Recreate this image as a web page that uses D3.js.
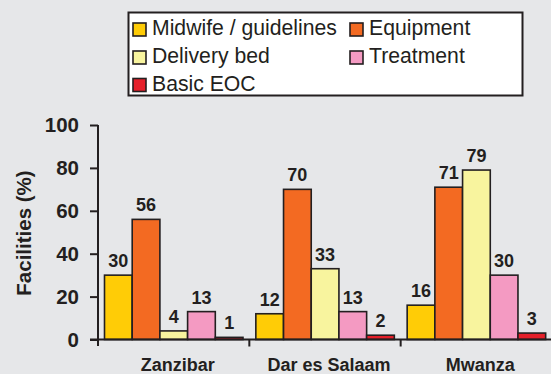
<!DOCTYPE html>
<html>
<head>
<meta charset="utf-8">
<script src="https://cdn.jsdelivr.net/npm/d3@7/dist/d3.min.js"></script>
<style>
  html, body { margin: 0; padding: 0; background: #e6e7e9; }
  svg { display: block; font-family: "Liberation Sans", Arial, sans-serif; }
</style>
</head>
<body>
<svg id="chart" width="551" height="374"></svg>
<script>
// Regions surveyed
const regions = ["Zanzibar", "Dar es Salaam", "Mwanza"];
// Indicators (one bar each per region)
const indicators = ["Midwife / guidelines", "Equipment", "Delivery bed", "Treatment", "Basic EOC"];
const indicatorColors = ["#ffcc06", "#f36a22", "#f8f49e", "#f49ac2", "#e5202a"];
// Percentage of facilities, per indicator, in region order
const midwife = [30, 12, 16];
const equipment = [56, 70, 71];
const deliveryBed = [4, 33, 79];
const treatment = [13, 13, 30];
const basicEOC = [1, 2, 3];
const yTicks = [0, 20, 40, 60, 80, 100];
const yTitle = "Facilities (%)";

const series = [midwife, equipment, deliveryBed, treatment, basicEOC];
const rows = [];
regions.forEach((r, ri) => {
  indicators.forEach((ind, ii) => {
    rows.push({ region: r, indicator: ind, value: series[ii][ri], color: indicatorColors[ii] });
  });
});

const ink = "#231f20";
const svg = d3.select("#chart");

const x0 = d3.scaleBand().domain(regions).range([98, 552]).paddingInner(0).paddingOuter(0);
const x1 = d3.scaleBand().domain(indicators).range([6.5, 145]).padding(0);
const y = d3.scaleLinear().domain([0, 100]).range([339.5, 125]);

// Bars
svg.append("g").selectAll("rect")
  .data(rows)
  .join("rect")
  .attr("x", d => x0(d.region) + x1(d.indicator))
  .attr("y", d => y(d.value))
  .attr("width", x1.bandwidth())
  .attr("height", d => y(0) - y(d.value))
  .attr("fill", d => d.color)
  .attr("stroke", ink)
  .attr("stroke-width", 1.6);

// Value labels
svg.append("g").selectAll("text")
  .data(rows)
  .join("text")
  .attr("x", d => x0(d.region) + x1(d.indicator) + x1.bandwidth() / 2)
  .attr("y", d => y(d.value) - 8)
  .attr("text-anchor", "middle")
  .attr("font-size", 18)
  .attr("font-weight", "bold")
  .attr("fill", ink)
  .text(d => d.value);

// Y axis
const yAxis = svg.append("g")
  .attr("transform", "translate(98,0)")
  .call(d3.axisLeft(y).tickValues(yTicks).tickSize(8).tickPadding(11).tickSizeOuter(0));
yAxis.select(".domain").attr("d", `M0,${y(100)}V346`).attr("stroke", ink).attr("stroke-width", 2);
yAxis.selectAll(".tick line").attr("stroke", ink).attr("stroke-width", 2);
yAxis.selectAll(".tick text")
  .attr("font-family", "'Liberation Sans', Arial, sans-serif")
  .attr("font-size", 20.5)
  .attr("font-weight", "bold")
  .attr("fill", ink);

// X axis: baseline with ticks at region boundaries, names centred under groups
const xAxis = svg.append("g")
  .attr("transform", `translate(0,${y(0)})`)
  .call(d3.axisBottom(x0).tickSize(0).tickPadding(19).tickSizeOuter(0));
xAxis.select(".domain").attr("d", "M90,0H551").attr("stroke", ink).attr("stroke-width", 2);
xAxis.selectAll(".tick text")
  .attr("dx", 4)
  .attr("font-family", "'Liberation Sans', Arial, sans-serif")
  .attr("font-size", 18)
  .attr("font-weight", "bold")
  .attr("fill", ink);
xAxis.selectAll(".boundary")
  .data(regions.slice(1))
  .join("line")
  .attr("class", "boundary")
  .attr("x1", d => x0(d)).attr("x2", d => x0(d))
  .attr("y1", 0).attr("y2", 7)
  .attr("stroke", ink).attr("stroke-width", 2);

// Y axis title
svg.append("text")
  .attr("transform", "translate(31,233) rotate(-90)")
  .attr("text-anchor", "middle")
  .attr("font-size", 20.5)
  .attr("font-weight", "bold")
  .attr("fill", ink)
  .text(yTitle);

// Legend
const legend = svg.append("g");
legend.append("rect")
  .attr("x", 128.5).attr("y", 12.5).attr("width", 394).attr("height", 83)
  .attr("fill", "#ffffff").attr("stroke", ink).attr("stroke-width", 2);
const legendPos = [[133, 35], [350, 35], [133, 63], [350, 63], [133, 90.5]];
const items = legend.selectAll("g.item")
  .data(indicators)
  .join("g")
  .attr("class", "item")
  .attr("transform", (d, i) => `translate(${legendPos[i][0]},${legendPos[i][1]})`);
items.append("rect")
  .attr("x", 0).attr("y", -12).attr("width", 13).attr("height", 13)
  .attr("fill", (d, i) => indicatorColors[i])
  .attr("stroke", ink).attr("stroke-width", 1.6);
items.append("text")
  .attr("x", 19).attr("y", 0)
  .attr("font-size", 21.2)
  .attr("fill", ink)
  .text(d => d);
</script>
</body>
</html>
